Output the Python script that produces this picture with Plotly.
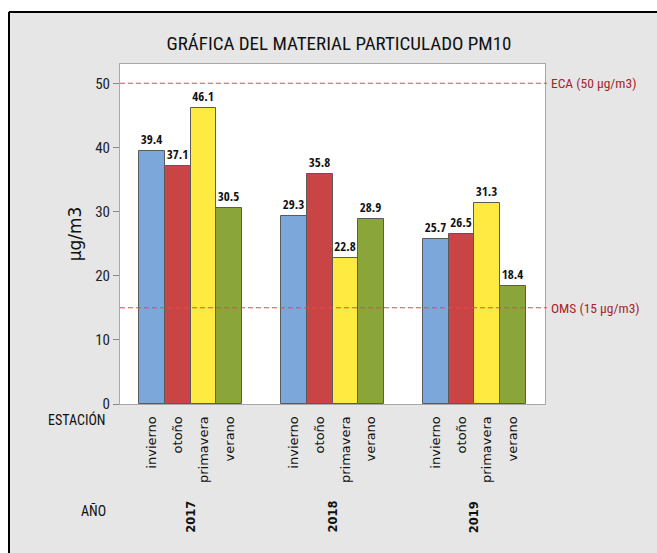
import plotly.graph_objects as go

years = ["2017", "2018", "2019"]
seasons = ["invierno", "otoño", "primavera", "verano"]
invierno = [39.4, 29.3, 25.7]
otono = [37.1, 35.8, 26.5]
primavera = [46.1, 22.8, 31.3]
verano = [30.5, 28.9, 18.4]
series = [invierno, otono, primavera, verano]
colors = ["#7ba7da", "#c94545", "#ffea42", "#8aa53a"]
ref_values = [50, 15]
ref_labels = ["ECA (50 µg/m3)", "OMS (15 µg/m3)"]
y_ticks = [0, 10, 20, 30, 40, 50]

W, H = 657, 553
ML, MR, MT, MB = 120, 112, 64, 149
PW, PH = W - ML - MR, H - MT - MB
GROUP_STEP = 5.5

def px_x(px):
    return (px - ML) / PW

def px_y(py):
    return (H - MB - py) / PH

COND = "Roboto Condensed, Liberation Sans, sans-serif"
BOLDCOND = "Open Sans Condensed, Roboto Condensed, sans-serif"
WIDE = "DejaVu Sans, Verdana, sans-serif"

fig = go.Figure()
tickvals, ticktext = [], []
for i, (name, vals, col) in enumerate(zip(seasons, series, colors)):
    xs = [g * GROUP_STEP + i for g in range(len(years))]
    tickvals += xs
    ticktext += [name] * len(years)
    fig.add_trace(go.Bar(
        x=xs, y=vals, name=name, width=1,
        marker=dict(color=col, line=dict(color="#5a5a5a", width=1)),
        text=[f"{v}" for v in vals], textposition="outside",
        textfont=dict(family=BOLDCOND, size=13, color="#111", weight="bold"),
        cliponaxis=False, showlegend=False,
    ))

shapes = []
annotations = []
for v, lab in zip(ref_values, ref_labels):
    shapes.append(dict(type="line", xref="paper", yref="y", x0=0, x1=px_x(547), y0=v, y1=v,
                       line=dict(color="#e34a4a", width=1, dash="5px,3px"), layer="above"))
    annotations.append(dict(text=lab, xref="paper", yref="y", x=px_x(549), y=v, xanchor="left",
                            yanchor="middle", showarrow=False,
                            font=dict(family=COND, size=13.5, color="#a8232a")))

for g, yr in enumerate(years):
    annotations.append(dict(text=yr, xref="x", yref="paper", x=g * GROUP_STEP + 1.5, y=px_y(517),
                            textangle=-90, showarrow=False, xanchor="center", yanchor="middle",
                            font=dict(family=WIDE, size=11.5, color="#111", weight="bold")))
annotations.append(dict(text="ESTACIÓN", xref="paper", yref="paper", x=px_x(108), y=px_y(419),
                        xanchor="right", yanchor="middle", showarrow=False,
                        font=dict(family=COND, size=14, color="#111")))
annotations.append(dict(text="AÑO", xref="paper", yref="paper", x=px_x(108), y=px_y(510),
                        xanchor="right", yanchor="middle", showarrow=False,
                        font=dict(family=COND, size=14, color="#111")))

# page frame: white strips at left/top and black border lines
shapes += [
    dict(type="rect", xref="paper", yref="paper", x0=px_x(-5), x1=px_x(8), y0=px_y(H + 5), y1=px_y(-5),
         fillcolor="white", line=dict(width=0), layer="below"),
    dict(type="rect", xref="paper", yref="paper", x0=px_x(-5), x1=px_x(W + 5), y0=px_y(11), y1=px_y(-5),
         fillcolor="white", line=dict(width=0), layer="below"),
    dict(type="line", xref="paper", yref="paper", x0=px_x(9), x1=px_x(9), y0=px_y(12), y1=px_y(H + 5),
         line=dict(color="#000", width=2), layer="below"),
    dict(type="line", xref="paper", yref="paper", x0=px_x(9), x1=px_x(W + 5), y0=px_y(12), y1=px_y(12),
         line=dict(color="#000", width=2), layer="below"),
]

fig.update_layout(
    width=W, height=H,
    margin=dict(l=ML, r=MR, t=MT, b=MB, pad=0),
    paper_bgcolor="#e6e6e6", plot_bgcolor="white",
    bargap=0, barmode="overlay",
    title=dict(text="GRÁFICA DEL MATERIAL PARTICULADO PM10", x=339 / W, xanchor="center",
               y=1 - 43 / H, yanchor="middle",
               font=dict(family=COND, size=19, color="#111")),
    xaxis=dict(range=[-1.24, 2 * GROUP_STEP + 3 + 1.24], tickvals=tickvals, ticktext=ticktext,
               tickangle=-90, tickfont=dict(family=WIDE, size=13, color="#111"),
               showline=True, linecolor="#a8a8a8", mirror=True, ticks="", showgrid=False,
               zeroline=False, ticklabelstandoff=6),
    yaxis=dict(range=[0, 53], tickvals=y_ticks, ticks="outside", ticklen=6, tickcolor="#888",
               tickfont=dict(family=COND, size=15, color="#222"),
               showline=True, linecolor="#a8a8a8", mirror=True, showgrid=False, zeroline=False,
               title=dict(text="µg/m3", font=dict(family=WIDE, size=17, color="#111"), standoff=9)),
    shapes=shapes, annotations=annotations,
)

fig.write_html("out.html", config={"displayModeBar": False},
               post_script="document.body.style.margin='0';")
